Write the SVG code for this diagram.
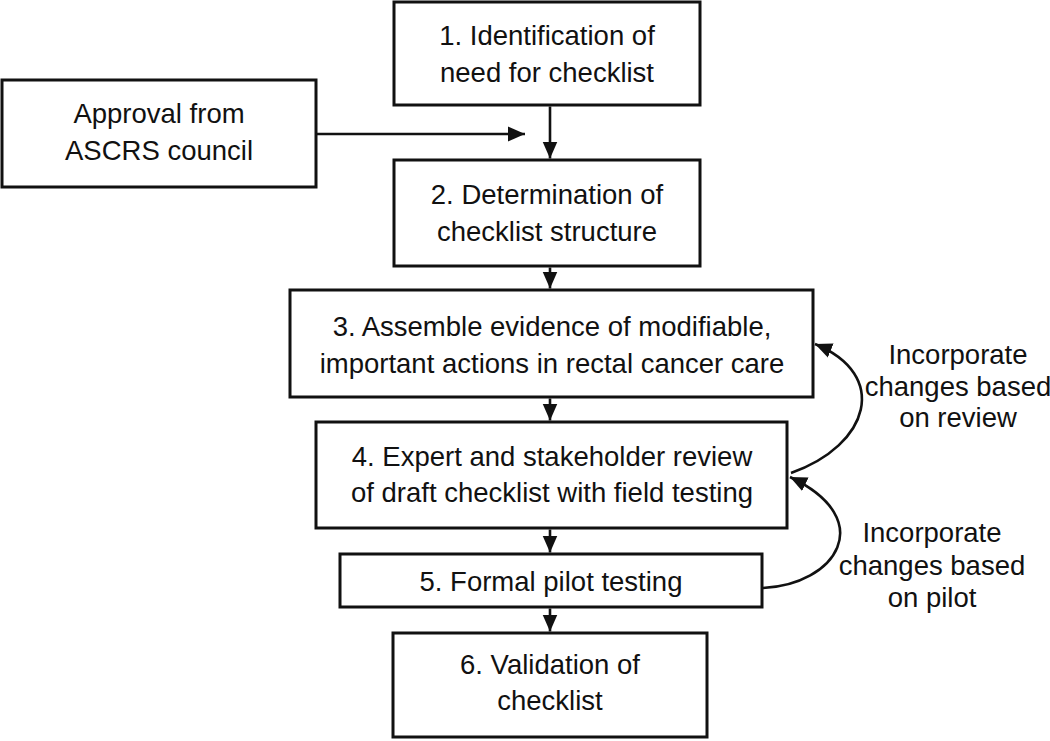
<svg xmlns="http://www.w3.org/2000/svg" width="1050" height="741" viewBox="0 0 1050 741">
<style>
.box{fill:#fff;stroke:#111;stroke-width:3}
.t{font-family:"Liberation Sans",Arial,sans-serif;font-size:27.5px;fill:#111;text-anchor:middle}
.c{fill:none;stroke:#111;stroke-width:2.6}
</style>
<defs>
<marker id="ah" viewBox="0 0 10 10" refX="10" refY="5" markerWidth="17" markerHeight="17" markerUnits="userSpaceOnUse" orient="auto">
<path d="M0,0.6 L10,5 L0,9.4 z" fill="#111"/>
</marker>
</defs>
<rect width="1050" height="741" fill="#fff"/>
<g id="n1"><rect class="box" x="394" y="2" width="306" height="103"/><text class="t" x="547" y="45">1. Identification of</text><text class="t" x="547" y="82">need for checklist</text></g>
<g id="n0"><rect class="box" x="2" y="80" width="314" height="107"/><text class="t" x="159" y="123">Approval from</text><text class="t" x="159" y="160">ASCRS council</text></g>
<g id="n2"><rect class="box" x="394" y="160" width="306" height="106"/><text class="t" x="547" y="204">2. Determination of</text><text class="t" x="547" y="241">checklist structure</text></g>
<g id="n3"><rect class="box" x="290" y="290" width="523" height="107"/><text class="t" x="552" y="336">3. Assemble evidence of modifiable,</text><text class="t" x="552" y="373">important actions in rectal cancer care</text></g>
<g id="n4"><rect class="box" x="316" y="422" width="471" height="106"/><text class="t" x="552" y="466">4. Expert and stakeholder review</text><text class="t" x="552" y="502">of draft checklist with field testing</text></g>
<g id="n5"><rect class="box" x="340" y="554" width="422" height="53"/><text class="t" x="551" y="591">5. Formal pilot testing</text></g>
<g id="n6"><rect class="box" x="393" y="633" width="314" height="104"/><text class="t" x="550" y="674">6. Validation of</text><text class="t" x="550" y="710">checklist</text></g>
<g id="l1"><text class="t" x="958" y="364">Incorporate</text><text class="t" x="958" y="396">changes based</text><text class="t" x="958" y="427">on review</text></g>
<g id="l2"><text class="t" x="932" y="542">Incorporate</text><text class="t" x="932" y="575">changes based</text><text class="t" x="932" y="607">on pilot</text></g>
<g id="connectors">
<path class="c" d="M317,134 H525" marker-end="url(#ah)"/>
<path class="c" d="M550,106.5 V158.5" marker-end="url(#ah)"/>
<path class="c" d="M550,267.5 V288.5" marker-end="url(#ah)"/>
<path class="c" d="M550,398.5 V420.5" marker-end="url(#ah)"/>
<path class="c" d="M550,529.5 V552.5" marker-end="url(#ah)"/>
<path class="c" d="M550,608.5 V631.5" marker-end="url(#ah)"/>
<path class="c" d="M791,473 C870,445 890,375 815,344" marker-end="url(#ah)"/>
<path class="c" d="M763,588 C835,585 880,520 790,477" marker-end="url(#ah)"/>
</g>
</svg>
